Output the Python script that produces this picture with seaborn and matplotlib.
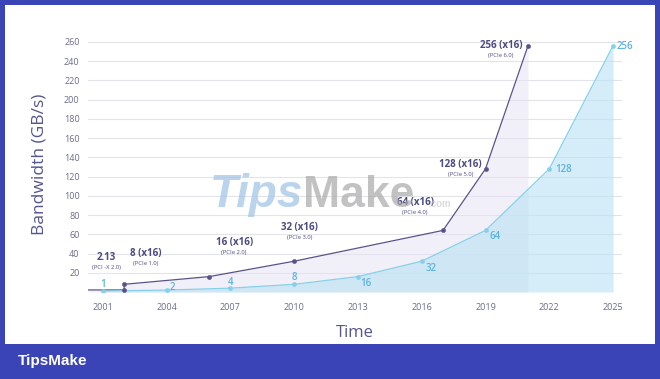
import matplotlib.pyplot as plt
import seaborn as sns
import pandas as pd
from matplotlib.patches import Rectangle

sns.set_style('white')
plt.rcParams['font.family'] = ['Open Sans', 'DejaVu Sans']

# PCIe x16 bandwidth (dark series)
pcie_years = [2000.3, 2002, 2002, 2006, 2010, 2017, 2019, 2021]
pcie_values = [2.13, 2.13, 8, 16, 32, 64, 128, 256]
pcie_labels = ['', '2.13', '8 (x16)', '16 (x16)', '32 (x16)', '64 (x16)', '128 (x16)', '256 (x16)']
pcie_names = ['', '(PCI -X 2.0)', '(PCIe 1.0)', '(PCIe 2.0)', '(PCIe 3.0)', '(PCIe 4.0)', '(PCIe 5.0)', '(PCIe 6.0)']
# label offsets in pixels from each point
pcie_offsets = [(0, 0), (-18, 32), (22, 31), (25, 34), (5, 34), (-28, 28), (-25, 4), (-27, 0)]

# doubling every three years (light series)
trend_years = [2001, 2004, 2007, 2010, 2013, 2016, 2019, 2022, 2025]
trend_values = [1, 2, 4, 8, 16, 32, 64, 128, 256]
trend_offsets = [(0, 7), (6, 3), (0, 6), (0, 7), (8, -7), (9, -7), (10, -6), (14, -1), (12, -1)]

x_ticks = [2001, 2004, 2007, 2010, 2013, 2016, 2019, 2022, 2025]
y_ticks = list(range(20, 261, 20))

DARK = '#5a5388'
DARK_TXT = '#4b4a82'
CYAN = '#86d0ea'
CYAN_TXT = '#5cb3dc'
FRAME = '#3a44b6'

dark = pd.DataFrame({'year': pcie_years, 'bw': pcie_values})
light = pd.DataFrame({'year': trend_years, 'bw': trend_values})

fig = plt.figure(figsize=(6.6, 3.79), dpi=100, facecolor=FRAME)
fig.patches.append(Rectangle((5 / 660, 35 / 379), 650 / 660, 339 / 379,
                             transform=fig.transFigure, facecolor='white',
                             edgecolor='none', zorder=-5))
ax = fig.add_axes([88 / 660, 87 / 379, 534 / 660, 255 / 379])
ax.set_facecolor('none')

ax.fill_between(dark['year'], dark['bw'], 0, color='#e6e2f2', alpha=0.55, lw=0, zorder=1)
ax.fill_between(light['year'], light['bw'], 0, color='#bde4f5', alpha=0.65, lw=0, zorder=2)

sns.lineplot(data=dark, x='year', y='bw', sort=False, estimator=None,
             color=DARK, lw=0.9, ax=ax, zorder=4)
sns.scatterplot(data=dark.iloc[1:], x='year', y='bw', color=DARK, s=10,
                edgecolor=DARK, ax=ax, zorder=5)
sns.lineplot(data=light, x='year', y='bw', color=CYAN, lw=0.9, ax=ax, zorder=4)
sns.scatterplot(data=light, x='year', y='bw', color=CYAN, s=10,
                edgecolor=CYAN, ax=ax, zorder=5)

for yr, v, lab, name, (dx, dy) in zip(pcie_years, pcie_values, pcie_labels, pcie_names, pcie_offsets):
    if not lab:
        continue
    ax.annotate(lab, (yr, v), xytext=(dx, dy), textcoords='offset pixels',
                ha='center', va='center', fontsize=7, fontweight='bold',
                color=DARK_TXT, zorder=6)
    ax.annotate(name, (yr, v), xytext=(dx, dy - 10), textcoords='offset pixels',
                ha='center', va='center', fontsize=4.2, color=DARK_TXT, zorder=6)

for yr, v, (dx, dy) in zip(trend_years, trend_values, trend_offsets):
    ax.annotate(str(v), (yr, v), xytext=(dx, dy), textcoords='offset pixels',
                ha='center', va='center', fontsize=7, fontweight='semibold',
                color=CYAN_TXT, zorder=6)

ax.set_xlim(2000.3, 2025.42)
ax.set_ylim(0, 265)
ax.set_xticks(x_ticks)
ax.set_yticks(y_ticks)
ax.tick_params(labelsize=6.5, labelcolor='#6b6b8e', length=0, pad=8)
ax.tick_params(axis='y', pad=6)
ax.yaxis.grid(True, color='#e3e3ea', lw=0.8, zorder=0)
ax.set_axisbelow(True)
for s in ax.spines.values():
    s.set_visible(False)
ax.set_xlabel('Time', fontsize=12, color='#55558f', labelpad=9)
ax.set_ylabel('Bandwidth (GB/s)', fontsize=12.5, color='#55558f', labelpad=12)

# watermark
fig.text(210 / 660, 1 - 207 / 379, 'Tips', fontsize=33, fontweight='bold', style='italic',
         color='#9fc3e6', alpha=0.7, family='Liberation Sans', va='baseline', zorder=3)
fig.text(303 / 660, 1 - 207 / 379, 'Make', fontsize=32, fontweight='bold',
         color='#a9a9a9', alpha=0.7, family='Liberation Sans', va='baseline', zorder=3)
fig.text(428 / 660, 1 - 207 / 379, '.com', fontsize=7, fontweight='bold',
         color='#c4c4c4', alpha=0.6, family='Liberation Sans', va='baseline', zorder=3)

fig.text(18 / 660, 1 - 361 / 379, 'TipsMake', fontsize=11, fontweight='bold',
         color='white', family='Liberation Sans', va='center')

fig.savefig('out.png', dpi=100, facecolor=FRAME)
